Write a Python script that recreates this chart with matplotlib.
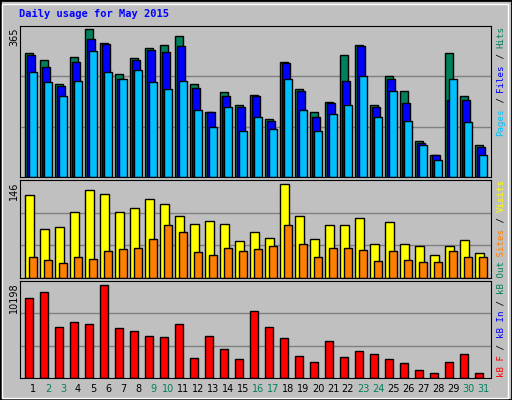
import matplotlib.pyplot as plt
from matplotlib.patches import Rectangle

days = list(range(1, 32))
weekend = [2, 3, 9, 10, 16, 17, 23, 24, 30, 31]

hits = [299, 282, 224, 289, 357, 323, 250, 287, 311, 318, 342, 224, 158, 205, 173, 199,
        141, 279, 212, 158, 182, 296, 318, 173, 245, 207, 86, 54, 299, 197, 78]
files = [294, 267, 219, 277, 333, 321, 238, 282, 306, 301, 316, 216, 156, 195, 170, 197,
         136, 275, 209, 146, 178, 233, 316, 170, 238, 180, 83, 52, 187, 187, 73]
pages = [253, 229, 197, 231, 304, 255, 238, 258, 229, 212, 233, 163, 122, 168, 112, 146,
         115, 238, 163, 112, 153, 173, 245, 146, 207, 136, 78, 40, 236, 132, 52]
visits = [124, 73, 76, 99, 131, 125, 99, 105, 118, 110, 92, 81, 85, 81, 55, 69,
          60, 140, 92, 58, 79, 79, 89, 50, 84, 50, 47, 34, 47, 56, 37]
sites = [32, 27, 23, 31, 29, 40, 43, 44, 58, 79, 69, 38, 34, 44, 40, 43,
         47, 79, 50, 32, 44, 44, 41, 26, 40, 27, 24, 24, 40, 31, 32]
kbytes = [8380, 9022, 5385, 5920, 5706, 9771, 5278, 4957, 4422, 4315, 5706, 2068, 4422, 3031, 1961, 7096,
          5385, 4208, 2282, 1640, 3887, 2175, 2817, 2496, 1961, 1533, 891, 571, 1640, 2496, 571]

W, H = 512, 400
BG = '#c0c0c0'
fig = plt.figure(figsize=(W / 100, H / 100), dpi=100, facecolor=BG)
fig.patches.append(Rectangle((0, 0), 1, 1, transform=fig.transFigure, fill=False,
                             edgecolor='black', lw=2))
fig.patches.append(Rectangle((2 / W, 2 / H), 1 - 6 / W, 1 - 6 / H, transform=fig.transFigure,
                             fill=False, edgecolor='white', lw=1))


def panel(top, bottom, ymax):
    ax = fig.add_axes([20 / W, 1 - bottom / H, 471 / W, (bottom - top) / H])
    ax.set_facecolor(BG)
    ax.set_xlim(0.133, 31.533)
    ax.set_ylim(0, ymax)
    for f in (1 / 3, 2 / 3):
        ax.axhline(ymax * f, color='#808080', lw=1, zorder=0)
    ax.set_xticks([])
    ax.set_yticks([])
    for s in ax.spines.values():
        s.set_color('black')
    return ax


bw = 0.49
x = [d for d in days]

ax1 = panel(26, 177, 365)
ax1.bar([d - 0.51 for d in x], hits, bw, align='edge', color='#00805c', edgecolor='black', lw=1)
ax1.bar([d - 0.38 for d in x], files, bw, align='edge', color='#0000ff', edgecolor='black', lw=1)
ax1.bar([d - 0.25 for d in x], pages, bw, align='edge', color='#00c0ff', edgecolor='black', lw=1)

ax2 = panel(180, 278, 146)
ax2.bar([d - 0.51 for d in x], visits, 0.56, align='edge', color='#ffff00', edgecolor='black', lw=1)
ax2.bar([d - 0.25 for d in x], sites, bw, align='edge', color='#ff8000', edgecolor='black', lw=1)

ax3 = panel(281, 378, 10198)
ax3.bar([d - 0.51 for d in x], kbytes, bw, align='edge', color='#ff0000', edgecolor='black', lw=1)

fig.text(19 / W, 1 - 14 / H, 'Daily usage for May 2015', color='#0000ff', fontsize=7.5,
         family='DejaVu Sans Mono', weight='bold', va='center')

for lab, ytop in (('365', 27), ('146', 182), ('10198', 282)):
    fig.text(14 / W, 1 - ytop / H, lab, rotation=90, ha='center', va='top',
             fontsize=7, family='DejaVu Sans')

for d in days:
    fig.text((33 + 15 * (d - 1)) / W, 1 - 389 / H, str(d), ha='center', va='center',
             fontsize=7, color='#00805c' if d in weekend else 'black')

CH = 5.5


def vlabel(segments, ybottom):
    y = ybottom
    for txt, col in segments:
        fig.text(501 / W, 1 - y / H, txt, rotation=90, ha='center', va='bottom',
                 fontsize=6.6, family='DejaVu Sans Mono', color=col)
        y -= CH * len(txt)


vlabel([('Pages', '#00c0ff'), (' / ', 'black'), ('Files', '#0000ff'), (' / ', 'black'),
        ('Hits', '#00805c')], 136)
vlabel([('kB F', '#ff0000'), (' / ', 'black'), ('kB In', '#0000ff'), (' / ', 'black'),
        ('kB Out', '#00805c'), (' Sites', '#ff8000'), (' / ', 'black'), ('Visits', '#ffff00')], 377)

fig.savefig('out.png', dpi=100, facecolor=BG)
